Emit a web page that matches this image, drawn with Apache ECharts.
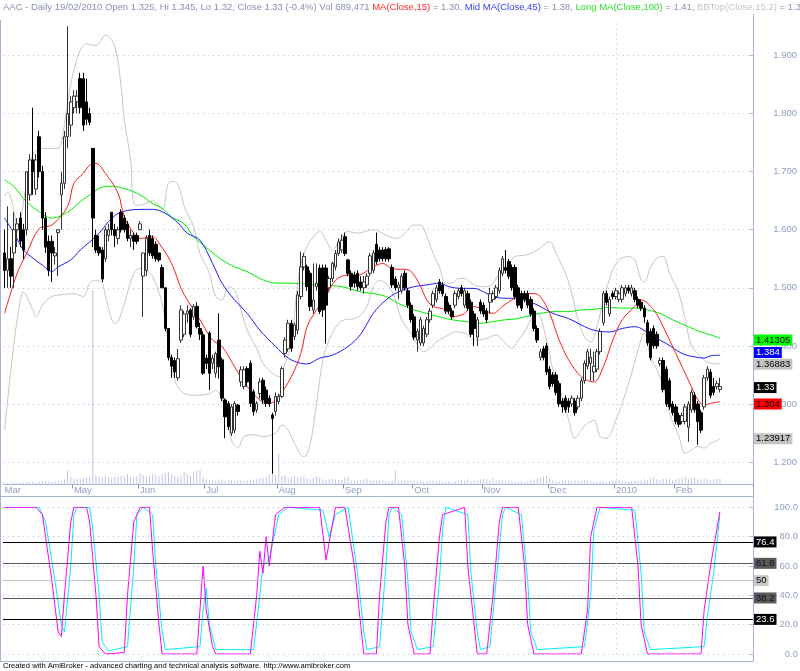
<!DOCTYPE html>
<html>
<head>
<meta charset="utf-8">
<script src="https://cdn.jsdelivr.net/npm/echarts@6.0.0/dist/echarts.min.js"></script>
<style>
html,body{margin:0;padding:0;background:#ffffff;}
#chart{width:800px;height:671px;}
</style>
</head>
<body>
<div id="chart"></div>
<script>
// ---------------- DATA ----------------
const ticker = 'AAC';
const lastDate = '19/02/2010';
// [open, close, low, high] per trading day
const ohlc = [
[1.56,1.53,1.50,1.60],[1.53,1.55,1.50,1.64],[1.55,1.52,1.50,1.57],[1.56,1.60,1.50,1.63],[1.60,1.61,1.57,1.62],
[1.62,1.58,1.57,1.63],[1.60,1.565,1.55,1.61],[1.60,1.70,1.59,1.70],[1.66,1.72,1.65,1.73],[1.72,1.70,1.66,1.81],
[1.67,1.72,1.66,1.73],[1.76,1.70,1.69,1.77],[1.70,1.62,1.60,1.71],[1.62,1.57,1.56,1.63],[1.58,1.53,1.52,1.59],
[1.58,1.56,1.51,1.59],[1.555,1.56,1.54,1.57],[1.595,1.60,1.52,1.60],[1.66,1.68,1.60,1.70],[1.68,1.76,1.67,1.77],
[1.76,1.80,1.74,1.95],[1.78,1.82,1.76,1.83],[1.81,1.83,1.80,1.84],[1.82,1.83,1.80,1.84],[1.86,1.81,1.80,1.87],
[1.86,1.78,1.77,1.87],[1.82,1.79,1.78,1.86],[1.80,1.785,1.78,1.81],[1.74,1.62,1.57,1.74],[1.59,1.565,1.56,1.60],
[1.57,1.56,1.555,1.59],[1.565,1.515,1.51,1.57],[1.55,1.60,1.545,1.605],[1.59,1.60,1.58,1.61],[1.63,1.60,1.59,1.63],
[1.60,1.59,1.57,1.61],[1.585,1.60,1.575,1.605],[1.63,1.60,1.595,1.635],[1.62,1.60,1.595,1.625],[1.61,1.585,1.58,1.615],
[1.585,1.59,1.57,1.60],[1.59,1.58,1.565,1.595],[1.59,1.58,1.575,1.595],[1.60,1.61,1.60,1.615],[1.52,1.56,1.45,1.56],
[1.53,1.585,1.52,1.59],[1.59,1.56,1.555,1.60],[1.585,1.555,1.55,1.59],[1.575,1.55,1.545,1.58],[1.56,1.548,1.545,1.56],
[1.535,1.50,1.50,1.54],[1.50,1.43,1.425,1.50],[1.43,1.38,1.375,1.43],[1.38,1.365,1.345,1.385],[1.375,1.355,1.345,1.38],
[1.345,1.378,1.34,1.395],[1.41,1.462,1.405,1.47],[1.42,1.455,1.415,1.46],[1.455,1.46,1.44,1.47],[1.462,1.42,1.415,1.465],
[1.45,1.468,1.445,1.472],[1.468,1.433,1.43,1.475],[1.43,1.42,1.41,1.44],[1.419,1.353,1.35,1.425],[1.379,1.37,1.36,1.385],
[1.422,1.353,1.324,1.425],[1.37,1.379,1.36,1.385],[1.353,1.387,1.345,1.39],[1.41,1.364,1.344,1.456],[1.376,1.31,1.305,1.38],
[1.307,1.278,1.241,1.31],[1.301,1.261,1.255,1.305],[1.25,1.295,1.245,1.30],[1.255,1.301,1.25,1.305],[1.298,1.287,1.28,1.30],
[1.338,1.359,1.33,1.365],[1.33,1.359,1.325,1.365],[1.361,1.338,1.33,1.365],[1.37,1.301,1.295,1.375],[1.321,1.287,1.28,1.325],
[1.29,1.301,1.285,1.305],[1.318,1.338,1.31,1.345],[1.341,1.307,1.30,1.345],[1.324,1.301,1.295,1.33],[1.31,1.301,1.295,1.315],
[1.281,1.275,1.18,1.285],[1.287,1.313,1.28,1.32],[1.304,1.313,1.30,1.318],[1.313,1.361,1.31,1.365],[1.387,1.41,1.38,1.415],
[1.395,1.439,1.39,1.445],[1.439,1.396,1.39,1.445],[1.416,1.436,1.41,1.44],[1.427,1.488,1.42,1.495],[1.485,1.536,1.48,1.562],
[1.536,1.554,1.53,1.56],[1.536,1.502,1.495,1.54],[1.525,1.468,1.46,1.53],[1.462,1.479,1.455,1.542],[1.502,1.508,1.495,1.542],
[1.534,1.459,1.455,1.54],[1.534,1.462,1.45,1.54],[1.534,1.47,1.404,1.54],[1.50,1.516,1.495,1.52],[1.516,1.542,1.51,1.545],
[1.536,1.559,1.53,1.565],[1.559,1.579,1.555,1.585],[1.565,1.582,1.56,1.592],[1.588,1.559,1.555,1.595],[1.548,1.525,1.52,1.55],
[1.525,1.502,1.495,1.53],[1.522,1.508,1.50,1.528],[1.525,1.502,1.495,1.53],[1.51,1.50,1.495,1.52],[1.50,1.51,1.49,1.52],
[1.505,1.52,1.50,1.525],[1.525,1.555,1.52,1.56],[1.53,1.56,1.525,1.565],[1.575,1.545,1.54,1.595],[1.565,1.55,1.545,1.57],
[1.565,1.55,1.545,1.57],[1.566,1.55,1.545,1.57],[1.567,1.55,1.545,1.57],[1.535,1.505,1.50,1.54],[1.515,1.50,1.495,1.52],
[1.50,1.505,1.48,1.51],[1.495,1.52,1.49,1.525],[1.525,1.50,1.495,1.53],[1.495,1.47,1.465,1.50],[1.47,1.445,1.44,1.475],
[1.45,1.415,1.41,1.455],[1.41,1.425,1.39,1.43],[1.405,1.445,1.40,1.45],[1.405,1.43,1.40,1.435],[1.42,1.445,1.415,1.45],
[1.445,1.46,1.44,1.465],[1.47,1.49,1.465,1.495],[1.48,1.50,1.475,1.505],[1.51,1.495,1.49,1.515],[1.505,1.49,1.485,1.51],
[1.485,1.46,1.455,1.49],[1.47,1.46,1.455,1.475],[1.46,1.45,1.445,1.465],[1.47,1.49,1.465,1.495],[1.485,1.495,1.48,1.50],
[1.50,1.49,1.485,1.505],[1.47,1.495,1.465,1.50],[1.49,1.465,1.46,1.495],[1.475,1.42,1.415,1.48],[1.455,1.43,1.40,1.46],
[1.415,1.445,1.40,1.45],[1.475,1.46,1.455,1.48],[1.47,1.455,1.45,1.475],[1.46,1.445,1.44,1.465],[1.475,1.49,1.455,1.50],
[1.48,1.49,1.475,1.495],[1.485,1.50,1.48,1.505],[1.495,1.53,1.49,1.535],[1.525,1.55,1.52,1.555],[1.535,1.53,1.525,1.565],
[1.545,1.52,1.515,1.55],[1.535,1.50,1.495,1.54],[1.535,1.485,1.48,1.54],[1.50,1.47,1.465,1.505],[1.49,1.465,1.46,1.495],
[1.49,1.48,1.475,1.495],[1.49,1.47,1.465,1.495],[1.48,1.455,1.45,1.485],[1.46,1.43,1.425,1.465],[1.43,1.41,1.405,1.435],
[1.38,1.39,1.375,1.395],[1.395,1.38,1.375,1.40],[1.40,1.355,1.35,1.405],[1.36,1.33,1.325,1.365],[1.35,1.335,1.33,1.355],
[1.35,1.32,1.315,1.355],[1.335,1.30,1.295,1.34],[1.305,1.295,1.285,1.31],[1.31,1.29,1.285,1.315],[1.305,1.295,1.285,1.31],
[1.30,1.31,1.295,1.315],[1.305,1.285,1.28,1.31],[1.295,1.31,1.29,1.315],[1.31,1.34,1.305,1.345],[1.34,1.37,1.335,1.375],
[1.365,1.39,1.36,1.395],[1.37,1.38,1.34,1.395],[1.355,1.365,1.34,1.39],[1.36,1.39,1.355,1.395],[1.39,1.425,1.385,1.43],
[1.44,1.49,1.435,1.495],[1.49,1.475,1.47,1.495],[1.455,1.48,1.45,1.485],[1.49,1.485,1.48,1.495],[1.485,1.495,1.48,1.50],
[1.48,1.49,1.475,1.495],[1.48,1.50,1.475,1.505],[1.49,1.50,1.485,1.505],[1.50,1.495,1.49,1.505],[1.49,1.50,1.485,1.505],
[1.495,1.48,1.475,1.50],[1.48,1.47,1.465,1.485],[1.475,1.465,1.46,1.48],[1.465,1.45,1.44,1.47],[1.44,1.405,1.40,1.445],
[1.425,1.38,1.375,1.43],[1.43,1.40,1.395,1.435],[1.42,1.40,1.395,1.425],[1.37,1.375,1.365,1.38],[1.375,1.325,1.32,1.38],
[1.36,1.30,1.295,1.365],[1.34,1.295,1.29,1.345],[1.30,1.285,1.28,1.305],[1.295,1.27,1.265,1.30],[1.28,1.265,1.26,1.285],
[1.27,1.28,1.265,1.285],[1.27,1.295,1.265,1.30],[1.26,1.30,1.235,1.305],[1.29,1.32,1.285,1.325],[1.315,1.29,1.285,1.32],
[1.30,1.27,1.23,1.305],[1.285,1.255,1.25,1.29],[1.295,1.345,1.29,1.35],[1.345,1.36,1.34,1.365],[1.355,1.315,1.31,1.36],
[1.33,1.32,1.315,1.345],[1.33,1.335,1.325,1.34],[1.325,1.33,1.32,1.345]
];
// volume in thousands of shares
const volumeK = [
150,200,180,250,200,220,260,300,280,350, 300,350,400,380,320,300,350,420,500,600,
1600,900,700,650,600,700,800,900,22400,1100, 900,850,1000,900,800,850,900,1000,950,1200,
900,800,1000,1300,1100,900,1000,1200,1100,1000, 1200,1300,1400,1200,1000,900,1100,1500,1200,1000,
1400,1600,1700,800,600,500,450,400,500,600, 400,500,450,400,500,450,400,500,600,500,
600,700,800,900,1100,1200,1100,3500,1000,1100, 800,900,1000,800,900,1000,700,600,800,900,
700,600,500,600,700,600,500,600,800,900, 500,400,450,500,600,700,600,500,400,450,
500,400,350,400,1600,350,450,400,500,450, 400,350,400,300,350,400,450,400,350,300,
350,400,300,350,400,500,450,600,400,450, 500,600,700,600,500,700,500,600,450,400,
350,400,300,350,400,300,350,500,600,700, 800,900,1000,700,500,400,350,400,450,500,
400,450,350,400,500,450,400,350,300,400, 350,300,400,350,450,500,400,350,300,400,
450,400,500,600,500,700,800,600,500,700, 600,700,500,600,650,700,900,600,700,800,
600,500,700,600,500,600,650,689.471
];
// month boundaries: [bar index, label]
const monthTicks = [[0,'Mar'],[22,'May'],[43,'Jun'],[64,'Jul'],[87,'Aug'],[108,'Sep'],[130,'Oct'],[152,'Nov'],[173,'Dec'],[194,'2010'],[213,'Feb']];
const yearStartIndex = 194;
const totalSlots = 238;
// indicator lines: [bar index, value]
const ma15 = [[0,1.456],[4,1.525],[7,1.559],[11,1.602],[15,1.608],[20,1.64],[22,1.68],[25,1.697],[27,1.711],[29,1.714],[32,1.697],[36,1.663],[38,1.622],[41,1.594],[43,1.585],[47,1.588],[49,1.577],[53,1.542],[56,1.499],[58,1.479],[62,1.445],[66,1.41],[69,1.399],[73,1.364],[77,1.33],[81,1.307],[84,1.301],[87,1.313],[91,1.347],[94,1.387],[96,1.433],[99,1.462],[102,1.485],[105,1.513],[109,1.522],[112,1.522],[117,1.536],[120,1.542],[123,1.533],[128,1.531],[131,1.513],[134,1.479],[136,1.468],[140,1.462],[142,1.45],[146,1.456],[148,1.468],[151,1.465],[155,1.456],[158,1.468],[161,1.479],[165,1.49],[168,1.49],[170,1.485],[173,1.456],[176,1.41],[179,1.376],[183,1.347],[187,1.338],[190,1.364],[193,1.41],[196,1.445],[200,1.468],[202,1.479],[206,1.462],[209,1.433],[213,1.387],[217,1.341],[220,1.307],[222,1.298],[224,1.301],[227,1.304]];
const ma45 = [[0,1.62],[3,1.594],[6,1.565],[9,1.551],[12,1.539],[15,1.528],[17,1.536],[21,1.548],[24,1.565],[27,1.579],[30,1.594],[33,1.614],[36,1.628],[39,1.633],[43,1.635],[47,1.635],[50,1.631],[53,1.621],[55,1.612],[58,1.594],[62,1.582],[66,1.542],[69,1.508],[73,1.479],[77,1.456],[81,1.427],[86,1.399],[90,1.379],[94,1.37],[96,1.369],[100,1.379],[104,1.384],[109,1.399],[113,1.42],[117,1.456],[121,1.479],[125,1.493],[130,1.502],[134,1.505],[138,1.508],[141,1.502],[145,1.499],[149,1.499],[152,1.493],[155,1.485],[159,1.482],[162,1.482],[165,1.479],[168,1.473],[170,1.468],[174,1.456],[179,1.447],[183,1.436],[187,1.427],[192,1.424],[196,1.43],[200,1.433],[202,1.43],[206,1.416],[210,1.404],[215,1.387],[219,1.381],[222,1.379],[224,1.383],[227,1.384]];
const ma100 = [[0,1.686],[3,1.674],[7,1.648],[11,1.631],[15,1.62],[17,1.622],[21,1.634],[24,1.648],[27,1.66],[30,1.671],[33,1.675],[38,1.671],[43,1.66],[47,1.645],[50,1.637],[53,1.622],[57,1.61],[60,1.588],[65,1.565],[69,1.548],[73,1.536],[77,1.528],[81,1.516],[86,1.508],[90,1.508],[94,1.507],[98,1.505],[102,1.504],[107,1.502],[111,1.496],[113,1.493],[117,1.49],[121,1.485],[125,1.473],[130,1.462],[134,1.456],[138,1.45],[142,1.445],[146,1.442],[151,1.439],[155,1.442],[159,1.445],[163,1.447],[167,1.453],[171,1.457],[174,1.459],[179,1.459],[183,1.462],[187,1.463],[192,1.466],[196,1.465],[200,1.465],[204,1.462],[208,1.456],[212,1.445],[217,1.433],[221,1.424],[224,1.419],[227,1.41305]];
const bbTop = [[0,1.658],[1,1.665],[3,1.632],[4,1.597],[7,1.68],[9,1.73],[12,1.74],[15,1.74],[17,1.74],[18,1.749],[22,1.875],[26,1.92],[29,1.917],[32,1.935],[35,1.915],[37,1.846],[38,1.789],[40,1.72],[41,1.645],[43,1.642],[47,1.65],[50,1.634],[52,1.68],[54,1.683],[56,1.663],[57,1.64],[60,1.605],[62,1.559],[65,1.525],[67,1.485],[69,1.479],[71,1.502],[73,1.496],[75,1.462],[77,1.427],[80,1.396],[82,1.37],[85,1.353],[87,1.347],[89,1.37],[91,1.404],[93,1.508],[95,1.559],[98,1.588],[100,1.597],[102,1.582],[104,1.565],[107,1.588],[109,1.597],[112,1.594],[117,1.60],[121,1.591],[124,1.585],[126,1.588],[130,1.608],[132,1.608],[134,1.588],[136,1.559],[138,1.536],[140,1.508],[142,1.508],[144,1.516],[146,1.516],[148,1.508],[151,1.502],[153,1.502],[155,1.508],[157,1.525],[160,1.542],[162,1.554],[165,1.556],[167,1.559],[169,1.565],[173,1.579],[175,1.559],[178,1.525],[180,1.49],[182,1.445],[184,1.416],[186,1.407],[188,1.433],[190,1.479],[193,1.531],[195,1.548],[198,1.554],[200,1.548],[202,1.513],[203,1.51],[205,1.536],[207,1.551],[209,1.554],[211,1.525],[214,1.49],[216,1.445],[218,1.399],[220,1.387],[222,1.376],[224,1.37],[227,1.36883]];
const bbBot = [[0,1.255],[2,1.359],[4,1.445],[6,1.493],[7,1.485],[9,1.462],[10,1.45],[12,1.47],[15,1.485],[18,1.488],[22,1.49],[25,1.485],[27,1.508],[29,1.513],[31,1.508],[32,1.485],[35,1.439],[36,1.442],[38,1.473],[41,1.525],[43,1.533],[45,1.53],[47,1.519],[50,1.473],[52,1.404],[54,1.341],[57,1.318],[61,1.315],[65,1.318],[67,1.324],[70,1.29],[72,1.238],[74,1.224],[76,1.244],[79,1.247],[82,1.244],[86,1.25],[88,1.264],[90,1.255],[92,1.232],[95,1.209],[97,1.232],[99,1.301],[101,1.376],[103,1.41],[106,1.439],[108,1.445],[111,1.447],[113,1.453],[115,1.468],[117,1.502],[119,1.513],[122,1.502],[124,1.479],[126,1.445],[129,1.422],[131,1.402],[133,1.39],[135,1.396],[137,1.407],[140,1.416],[143,1.424],[146,1.422],[150,1.41],[153,1.413],[156,1.419],[158,1.41],[161,1.396],[163,1.41],[165,1.424],[167,1.445],[169,1.456],[172,1.41],[174,1.359],[177,1.313],[179,1.272],[181,1.241],[183,1.255],[185,1.267],[187,1.272],[189,1.244],[191,1.241],[194,1.272],[197,1.318],[199,1.353],[201,1.393],[203,1.422],[205,1.381],[207,1.359],[209,1.33],[211,1.284],[214,1.244],[216,1.215],[218,1.221],[220,1.227],[222,1.224],[224,1.232],[227,1.23917]];
const stochK = [[0,100],[10,100],[12,95],[15,50],[17,15],[18,12],[19,40],[21,90],[22,100],[26,100],[27,90],[29,40],[30,5],[32,0],[38,1],[39,40],[41,90],[43,100],[46,100],[47,70],[49,20],[50,0],[61,0],[62,30],[63,60],[64,30],[66,5],[67,0],[78,0],[80,40],[81,70],[82,55],[83,80],[84,60],[86,95],[89,100],[100,100],[102,64],[105,100],[108,100],[111,60],[113,20],[114,0],[118,0],[119,40],[121,90],[122,100],[125,100],[127,60],[128,20],[130,0],[135,0],[136,30],[138,80],[139,95],[146,100],[147,60],[149,20],[150,0],[153,0],[155,40],[157,90],[158,100],[163,100],[165,60],[166,20],[168,0],[183,0],[185,30],[186,80],[188,100],[199,100],[201,60],[202,20],[204,0],[221,0],[222,30],[224,60],[227,97]];
const stochD = [[0,100],[11,100],[13,90],[16,50],[18,20],[19,15],[21,60],[22,95],[23,100],[27,100],[28,85],[30,40],[31,8],[33,2],[39,5],[41,60],[42,95],[44,100],[47,95],[48,60],[50,15],[51,3],[62,5],[63,30],[64,45],[65,20],[67,3],[79,3],[81,40],[82,60],[84,65],[85,75],[87,95],[90,100],[101,98],[103,80],[105,95],[109,100],[112,55],[114,15],[115,3],[119,5],[121,60],[122,95],[123,100],[126,95],[128,50],[129,15],[131,3],[136,5],[138,50],[139,85],[140,100],[147,95],[148,55],[150,15],[151,3],[154,5],[156,50],[158,95],[159,100],[164,95],[166,50],[167,15],[169,3],[184,5],[186,40],[187,85],[189,100],[200,98],[202,55],[203,15],[205,3],[222,5],[223,25],[225,55],[227,95]];
const stochLevels = [76.4, 61.8, 50, 38.2, 23.6];

// ---------------- STYLE ----------------
const FONT = 'Liberation Sans, Arial, sans-serif';
const frameColor = '#a4b4d6';
const labelColor = '#8fa0c6';
const dotColor = '#a9c2e6';
const headColor = '#8892b2';
const levelStyles = {
  76.4: {line:'#000000', bg:'#000000', fg:'#ffffff'},
  61.8: {line:'#5a5a5a', bg:'#5a5a5a', fg:'#111111'},
  50:   {line:'#c4c4c4', bg:'#c8c8c8', fg:'#000000'},
  38.2: {line:'#5a5a5a', bg:'#5a5a5a', fg:'#111111'},
  23.6: {line:'#000000', bg:'#000000', fg:'#ffffff'}
};

const cats = Array.from({length: totalSlots}, (_, i) => String(i));
const monthMap = new Map(monthTicks);
const last = ohlc[ohlc.length - 1];
const prev = ohlc[ohlc.length - 2];
const lastVal = a => a[a.length - 1][1];
const pct = ((last[1] - prev[1]) / prev[1] * 100).toFixed(1);
const volStr = Math.round(volumeK[volumeK.length - 1] * 1000).toLocaleString('en-US');

const headerText =
  `{g|${ticker} - Daily ${lastDate} Open ${last[0]}, Hi ${last[3]}, Lo ${last[2]}, Close ${last[1]} (${pct}%) Vol ${volStr} }` +
  `{r|MA(Close,15)}{g| = ${lastVal(ma15).toFixed(2)}, }` +
  `{b|Mid MA(Close,45)}{g| = ${lastVal(ma45).toFixed(2)}, }` +
  `{gr|Long MA(Close,100)}{g| = ${lastVal(ma100).toFixed(2)}, }` +
  `{lg|BBTop(Close,15,2)}{g| = ${lastVal(bbTop).toFixed(2)}, }` +
  `{lg|BBBot(Close,15,2)}{g| = ${lastVal(bbBot).toFixed(2)}}`;

function tag(value, bg, fg, text, dy) {
  return {
    silent: true, symbol: 'none', animation: false,
    lineStyle: {color: 'rgba(0,0,0,0)', width: 1},
    label: {show: true, position: 'end', distance: 1, formatter: text, offset: [0, dy || 0],
      backgroundColor: bg, color: fg, fontSize: 9.5, fontFamily: FONT, padding: [1, 2, 0, 2]},
    data: [{yAxis: value}]
  };
}
const yearLine = {
  silent: true, symbol: 'none', animation: false,
  lineStyle: {color: dotColor, type: [1, 4], width: 1},
  label: {show: false},
  data: [{xAxis: String(yearStartIndex)}]
};

const chart = echarts.init(document.getElementById('chart'), null, {renderer: 'canvas'});
const gridBase = {left: 3, width: 750, containLabel: false, outerBoundsMode: 'none', show: false};

const option = {
  animation: false,
  backgroundColor: '#ffffff',
  title: {
    text: headerText, left: 3, top: 2, padding: 0,
    textStyle: {fontSize: 9.5, fontFamily: FONT, fontWeight: 'normal',
      rich: {
        g: {color: headColor, fontSize: 9.5, fontFamily: FONT},
        r: {color: '#ff2a2a', fontSize: 9.5, fontFamily: FONT},
        b: {color: '#3a3af0', fontSize: 9.5, fontFamily: FONT},
        gr: {color: '#2ee02e', fontSize: 9.5, fontFamily: FONT},
        lg: {color: '#c4c4c4', fontSize: 9.5, fontFamily: FONT}
      }}
  },
  grid: [
    Object.assign({}, gridBase, {top: 55.4, height: 406.7}),   // price
    Object.assign({}, gridBase, {top: 20, height: 464.5}),     // volume + dates
    Object.assign({}, gridBase, {top: 507.3, height: 146.7})   // stochastic
  ],
  xAxis: [
    {type: 'category', gridIndex: 0, data: cats, boundaryGap: true, show: false},
    {type: 'category', gridIndex: 1, data: cats, boundaryGap: true,
      axisLine: {show: true, lineStyle: {color: frameColor, width: 1}},
      axisTick: {show: true, interval: (i) => monthMap.has(i) && i > 0, length: 4, lineStyle: {color: '#8090b8'}},
      axisLabel: {show: true, interval: (i) => monthMap.has(i), formatter: (v, i) => monthMap.get(Number(v)) || '',
        align: 'left', margin: 1, color: labelColor, fontSize: 9.5, fontFamily: FONT},
      splitLine: {show: false}},
    {type: 'category', gridIndex: 2, data: cats, boundaryGap: true,
      axisLine: {show: false}, axisTick: {show: false}, axisLabel: {show: false}, splitLine: {show: false}}
  ],
  yAxis: [
    {type: 'value', gridIndex: 0, position: 'right', min: 1.2, max: 1.9, interval: 0.1,
      axisLine: {show: false},
      axisTick: {show: true, inside: true, length: 3, lineStyle: {color: frameColor}},
      axisLabel: {show: true, inside: false, margin: 44, align: 'right', color: labelColor, fontSize: 9.5, fontFamily: FONT,
        formatter: v => v.toFixed(3)},
      splitLine: {show: true, lineStyle: {color: dotColor, type: [1, 4], width: 1}}},
    {type: 'value', gridIndex: 1, position: 'right', min: 0, max: 53500,
      axisLine: {show: false}, axisTick: {show: false}, axisLabel: {show: false}, splitLine: {show: false}},
    {type: 'value', gridIndex: 2, position: 'right', min: 0, max: 100, interval: 20,
      axisLine: {show: false},
      axisTick: {show: true, inside: true, length: 3, lineStyle: {color: frameColor}},
      axisLabel: {show: true, margin: 45, align: 'right', color: labelColor, fontSize: 9.5, fontFamily: FONT,
        formatter: v => v.toFixed(1)},
      splitLine: {show: true, lineStyle: {color: dotColor, type: [1, 4], width: 1}}}
  ],
  series: [
    {type: 'bar', name: 'Volume', xAxisIndex: 1, yAxisIndex: 1, data: volumeK, barWidth: 1,
      itemStyle: {color: '#c2c4e6'}, z: 1, silent: true, markLine: yearLine},
    {type: 'line', name: 'BBTop', xAxisIndex: 0, yAxisIndex: 0, data: bbTop, smooth: 0.35, showSymbol: false, clip: false,
      lineStyle: {color: '#c6c6c6', width: 1}, z: 2, markLine: tag(lastVal(bbTop), '#c4c4c4', '#000', String(lastVal(bbTop)), 1)},
    {type: 'line', name: 'BBBot', xAxisIndex: 0, yAxisIndex: 0, data: bbBot, smooth: 0.35, showSymbol: false, clip: false,
      lineStyle: {color: '#c6c6c6', width: 1}, z: 2, markLine: tag(lastVal(bbBot), '#c4c4c4', '#000', String(lastVal(bbBot)))},
    {type: 'line', name: 'MA100', xAxisIndex: 0, yAxisIndex: 0, data: ma100, smooth: 0.35, showSymbol: false, clip: false,
      lineStyle: {color: '#00ee00', width: 1}, z: 3, markLine: tag(lastVal(ma100), '#00ff00', '#000', String(lastVal(ma100)))},
    {type: 'line', name: 'MA45', xAxisIndex: 0, yAxisIndex: 0, data: ma45, smooth: 0.35, showSymbol: false, clip: false,
      lineStyle: {color: '#1c1cff', width: 1}, z: 3, markLine: tag(lastVal(ma45), '#0000ff', '#fff', String(lastVal(ma45)), -5)},
    {type: 'line', name: 'MA15', xAxisIndex: 0, yAxisIndex: 0, data: ma15, smooth: 0.35, showSymbol: false, clip: false,
      lineStyle: {color: '#ff1c1c', width: 1}, z: 3, markLine: tag(lastVal(ma15), '#ff0000', '#000', String(lastVal(ma15)))},
    {type: 'candlestick', name: ticker, xAxisIndex: 0, yAxisIndex: 0, data: ohlc, barWidth: 3, clip: false,
      itemStyle: {color: '#ffffff', color0: '#000000', borderColor: '#333333', borderColor0: '#000000', borderWidth: 1},
      z: 4, markLine: tag(last[1], '#000000', '#fff', String(last[1]), 1)},
    {type: 'line', name: '%D', xAxisIndex: 2, yAxisIndex: 2, data: stochD, smooth: false, showSymbol: false,
      lineStyle: {color: '#00f0f0', width: 1}, z: 3,
      markLine: {silent: true, symbol: 'none', animation: false,
        data: stochLevels.map(v => ({yAxis: v,
          lineStyle: {color: levelStyles[v].line, width: 1, type: 'solid'},
          label: {show: true, position: 'end', distance: 1, formatter: String(v),
            backgroundColor: levelStyles[v].bg, color: levelStyles[v].fg, fontSize: 9.5, fontFamily: FONT, padding: [1, 2, 0, 2]}}))}},
    {type: 'line', name: '%K', xAxisIndex: 2, yAxisIndex: 2, data: stochK, smooth: false, showSymbol: false,
      lineStyle: {color: '#ff00ff', width: 1}, z: 4, markLine: yearLine}
  ],
  graphic: [
    {type: 'line', silent: true, shape: {x1: 753.5, y1: 14, x2: 753.5, y2: 661.5}, style: {stroke: frameColor, lineWidth: 1}},
    {type: 'line', silent: true, shape: {x1: 0.5, y1: 20, x2: 0.5, y2: 661.5}, style: {stroke: frameColor, lineWidth: 1}},
    {type: 'line', silent: true, shape: {x1: 0, y1: 496.5, x2: 753.5, y2: 496.5}, style: {stroke: frameColor, lineWidth: 1}},
    {type: 'line', silent: true, shape: {x1: 0, y1: 661.5, x2: 753.5, y2: 661.5}, style: {stroke: frameColor, lineWidth: 1}},
    {type: 'text', silent: true, left: 3, top: 662,
      style: {text: 'Created with AmiBroker - advanced charting and technical analysis software. http://www.amibroker.com',
        fill: '#000000', font: '7.6px ' + FONT}}
  ]
};
chart.setOption(option);
</script>
</body>
</html>
